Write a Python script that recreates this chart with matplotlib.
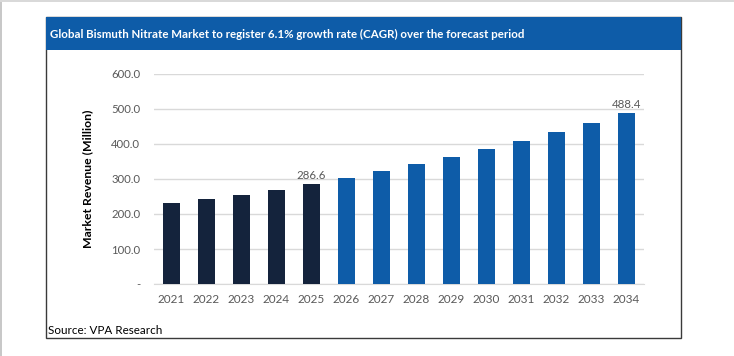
import matplotlib.pyplot as plt
from matplotlib.patches import Rectangle

plt.rcParams['font.family'] = ['Lato', 'DejaVu Sans']

# Data
years = ['2021', '2022', '2023', '2024', '2025', '2026', '2027',
         '2028', '2029', '2030', '2031', '2032', '2033', '2034']
revenue = [230.5, 242.5, 255.0, 270.0, 286.6, 304.1, 322.6,
           342.3, 363.2, 385.4, 408.9, 433.8, 460.3, 488.4]
labelled = {'2025': '286.6', '2034': '488.4'}
yticks = [0, 100, 200, 300, 400, 500, 600]
ytick_labels = ['-', '100.0', '200.0', '300.0', '400.0', '500.0', '600.0']

navy = '#14233C'
blue = '#0E5CA8'
gray_txt = '#595959'

fig = plt.figure(figsize=(7.34, 3.56), dpi=100)
W, H = 734, 356

# outer light border (left and top)
fig.add_artist(Rectangle((0, 0), 2 / W, 1, transform=fig.transFigure,
                         color='#C8C8C8', lw=0))
fig.add_artist(Rectangle((0, 1 - 2 / H), 1, 2 / H, transform=fig.transFigure,
                         color='#D9D9D9', lw=0))

# chart frame
x0, x1, y0, y1 = 46, 681, 17, 338
fig.add_artist(Rectangle((x0 / W, 1 - y1 / H), (x1 - x0) / W, (y1 - y0) / H,
                         transform=fig.transFigure, fill=False,
                         edgecolor='#3A3A3A', lw=1))
# title bar
fig.add_artist(Rectangle((x0 / W, 1 - 50 / H), (x1 - x0) / W, 33 / H,
                         transform=fig.transFigure, color=blue, lw=0))
fig.text(50 / W, 1 - 34 / H,
         'Global Bismuth Nitrate Market to register 6.1% growth rate (CAGR) over the forecast period',
         color='white', fontsize=8.3, fontweight='bold', va='center', ha='left')

fig.text(48 / W, 1 - 330 / H, 'Source: VPA Research', color='black',
         fontsize=8.4, va='center', ha='left')

ax = fig.add_axes([154 / W, 1 - 284 / H, (644 - 154) / W, (284 - 74) / H])
colors = [navy if int(y) <= 2025 else blue for y in years]
x = range(len(years))
ax.bar(x, revenue, width=0.5, color=colors, zorder=3)

for i, (yr, v) in enumerate(zip(years, revenue)):
    if yr in labelled:
        ax.text(i, v + 8, labelled[yr], ha='center', va='bottom',
                fontsize=8.3, color=gray_txt)

ax.set_xlim(-0.5, 13.5)
ax.set_ylim(0, 600)
ax.set_xticks(list(x))
ax.set_xticklabels(years, fontsize=8.5, color=gray_txt)
ax.set_yticks(yticks)
ax.set_yticklabels(ytick_labels, fontsize=8.2, color=gray_txt)
ax.tick_params(length=0, pad=10)
ax.tick_params(axis='x', pad=7)
ax.grid(axis='y', color='#D9D9D9', lw=1, zorder=0)
for s in ['top', 'right', 'left']:
    ax.spines[s].set_visible(False)
ax.spines['bottom'].set_color('#D9D9D9')
ax.set_ylabel('Market Revenue (Million)', fontsize=8.8, fontweight='bold',
              color='black', labelpad=13)

fig.savefig('out.png', dpi=100)
